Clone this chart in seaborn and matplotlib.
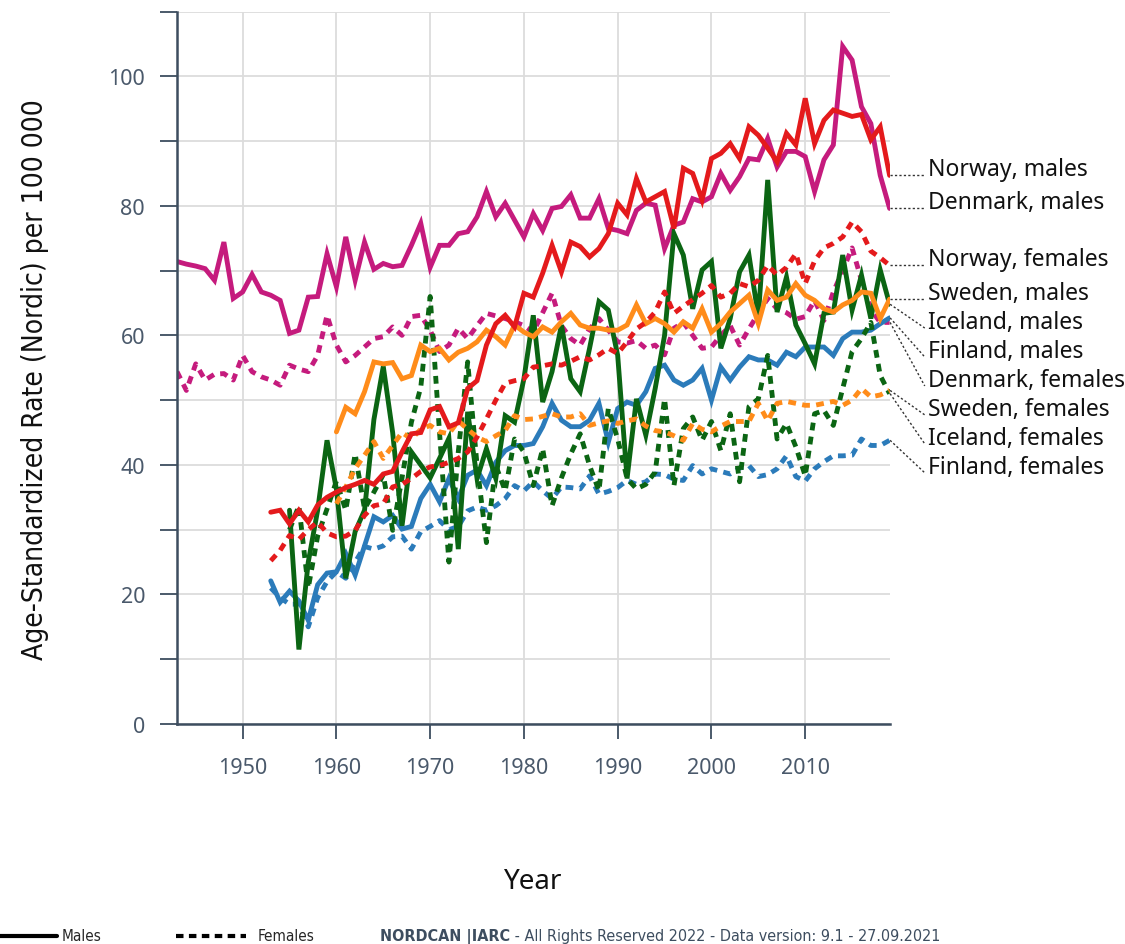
import numpy as np
import pandas as pd
import matplotlib
matplotlib.use("Agg")
import matplotlib.pyplot as plt
from matplotlib.lines import Line2D
from matplotlib import font_manager
import seaborn as sns

# ---------------------------------------------------------------- data
start_year = {"Denmark": 1943, "Finland": 1953, "Iceland": 1955,
              "Norway": 1953, "Sweden": 1960}

denmark_males = [
    71.4, 71.0, 70.7, 70.3, 68.5, 74.4, 65.7, 66.7, 69.4, 66.7,
    66.2, 65.4, 60.3, 60.8, 65.9, 66.0, 72.6, 67.5, 75.2, 68.5,
    74.4, 70.2, 71.1, 70.6, 70.8, 73.9, 77.3, 70.5, 73.9, 73.9,
    75.7, 76.0, 78.3, 82.2, 78.3, 80.4, 77.8, 75.2, 78.8, 76.2,
    79.6, 79.9, 81.7, 78.1, 78.1, 81.1, 76.5, 76.2, 75.7, 79.3,
    80.4, 80.1, 73.4, 77.0, 77.5, 81.1, 80.6, 81.4, 85.0, 82.4,
    84.5, 87.3, 87.1, 90.4, 86.0, 88.4, 88.4, 87.6, 82.2, 87.1,
    89.4, 104.6, 102.5, 95.3, 92.7, 84.7, 79.6]
denmark_females = [
    54.4, 51.5, 55.6, 53.1, 54.0, 54.1, 53.1, 56.9, 54.4, 53.6,
    53.1, 52.3, 55.4, 54.8, 54.4, 56.9, 63.1, 58.5, 55.9, 56.9,
    58.2, 59.5, 59.8, 61.3, 60.0, 62.9, 63.1, 60.8, 57.5, 58.5,
    61.1, 59.5, 61.5, 63.4, 63.0, 62.6, 62.1, 61.5, 60.5, 63.5,
    66.5, 61.5, 59.5, 58.5, 61.0, 62.6, 60.8, 59.0, 58.8, 59.2,
    58.0, 58.5, 57.0, 61.1, 62.0, 60.0, 58.0, 58.2, 60.0, 61.5,
    58.5, 61.0, 63.4, 65.7, 64.1, 63.5, 62.5, 62.9, 65.4, 62.3,
    66.7, 70.0, 73.5, 68.5, 64.0, 62.0, 62.0]

finland_males = [
    22.1, 18.8, 20.5, 19.0, 16.0, 21.5, 23.3, 23.5, 26.3, 23.0,
    27.5, 32.0, 31.2, 32.2, 30.1, 30.5, 34.8, 37.0, 34.3, 37.9,
    34.8, 38.4, 39.2, 36.8, 40.4, 42.2, 43.0, 43.0, 43.3, 45.9,
    49.5, 46.9, 45.9, 45.9, 46.9, 49.5, 43.5, 48.7, 49.7, 49.2,
    51.3, 54.9, 55.4, 53.1, 52.3, 53.1, 54.9, 50.0, 55.1, 53.1,
    55.1, 56.7, 56.2, 56.2, 55.4, 57.4, 56.7, 58.2, 58.2, 58.2,
    56.9, 59.5, 60.5, 60.5, 60.8, 61.8, 62.7]
finland_females = [
    21.0, 19.5, 18.5, 18.5, 15.0, 19.5, 22.0, 23.5, 22.5, 25.0,
    27.4, 27.0, 27.5, 28.9, 29.0, 27.0, 29.7, 30.5, 31.4, 30.0,
    30.5, 32.9, 33.5, 33.0, 33.7, 34.8, 36.8, 36.0, 37.4, 36.0,
    34.8, 36.6, 36.5, 36.3, 38.3, 35.5, 35.9, 36.5, 37.6, 37.0,
    37.4, 38.6, 38.5, 37.8, 37.6, 39.9, 38.6, 39.4, 39.0, 38.6,
    39.5, 39.9, 38.2, 38.5, 39.4, 41.4, 38.2, 37.5, 39.4, 40.5,
    41.4, 41.4, 41.5, 44.0, 43.0, 43.0, 43.8]

iceland_males = [
    33.0, 11.5, 25.0, 33.0, 43.8, 36.3, 22.5, 29.7, 33.0, 47.0,
    55.2, 45.0, 30.6, 42.0, 40.0, 38.0, 41.0, 44.1, 27.0, 48.2,
    37.9, 42.5, 37.9, 47.6, 46.6, 53.3, 63.1, 49.7, 54.4, 61.6,
    53.3, 51.3, 58.0, 65.2, 63.9, 56.9, 37.9, 50.2, 44.6, 51.8,
    60.0, 75.7, 72.4, 64.1, 70.1, 71.4, 58.0, 62.6, 69.8, 72.4,
    62.9, 84.0, 63.6, 69.0, 61.6, 58.7, 55.6, 63.4, 63.6, 72.4,
    63.9, 69.3, 62.6, 70.1, 64.8]
iceland_females = [
    30.0, 33.7, 21.0, 29.0, 33.2, 37.5, 33.0, 41.7, 33.2, 35.8,
    38.5, 29.9, 38.0, 46.6, 52.0, 66.0, 45.0, 25.0, 42.0, 55.9,
    40.0, 28.0, 39.9, 36.0, 44.0, 42.0, 36.8, 42.5, 33.7, 38.0,
    41.7, 44.8, 39.9, 36.0, 48.7, 44.0, 37.9, 36.3, 37.0, 38.9,
    50.2, 36.8, 45.6, 47.4, 43.8, 46.7, 42.2, 47.9, 37.4, 49.0,
    50.2, 56.9, 44.0, 46.4, 42.8, 38.3, 47.9, 48.4, 46.1, 51.8,
    57.5, 59.5, 62.0, 53.8, 51.0]

norway_males = [
    32.7, 33.0, 30.9, 33.0, 31.2, 33.8, 35.0, 35.8, 36.5, 37.0,
    37.6, 37.0, 38.6, 39.0, 42.0, 44.8, 45.0, 48.5, 49.0, 45.9,
    46.5, 51.8, 53.0, 58.5, 61.8, 63.1, 61.3, 66.5, 65.9, 69.6,
    73.9, 69.8, 74.4, 73.7, 72.1, 73.4, 75.7, 80.4, 78.6, 84.2,
    80.6, 81.4, 82.2, 76.5, 85.8, 85.0, 80.9, 87.3, 88.1, 89.6,
    87.3, 92.2, 90.9, 88.9, 86.8, 91.2, 89.4, 96.6, 89.6, 93.2,
    94.8, 94.3, 93.8, 94.1, 90.2, 92.2, 84.7]
norway_females = [
    25.2, 26.8, 29.1, 28.5, 30.0, 31.2, 29.5, 28.9, 29.0, 29.9,
    32.2, 33.7, 34.0, 36.6, 37.0, 37.9, 39.0, 39.7, 39.9, 40.4,
    41.0, 42.0, 44.3, 47.1, 50.0, 52.6, 53.0, 53.3, 55.1, 55.3,
    55.6, 55.4, 56.0, 56.7, 56.2, 57.0, 58.0, 57.2, 59.0, 61.0,
    62.0, 63.6, 66.7, 63.4, 64.5, 65.5, 66.5, 67.7, 65.9, 66.5,
    68.0, 67.5, 68.5, 70.8, 69.3, 70.5, 72.6, 68.0, 71.5, 73.5,
    74.2, 75.2, 77.5, 76.0, 73.0, 72.0, 70.8]

sweden_males = [
    45.1, 48.9, 47.9, 51.3, 55.9, 55.6, 55.8, 53.3, 53.8, 58.5,
    57.5, 58.0, 56.2, 57.4, 58.0, 59.0, 60.8, 59.8, 58.5, 61.6,
    60.5, 59.8, 61.3, 60.5, 62.1, 63.4, 61.6, 61.1, 61.1, 60.8,
    60.8, 61.6, 64.7, 61.8, 62.6, 61.8, 60.5, 62.1, 61.1, 64.1,
    60.5, 61.8, 63.6, 64.9, 66.2, 61.8, 67.0, 65.4, 65.9, 68.0,
    66.2, 65.4, 64.1, 63.6, 64.7, 65.4, 66.7, 66.5, 62.6, 65.6]
sweden_females = [
    34.0, 36.6, 39.4, 41.5, 43.6, 41.0, 43.0, 45.0, 44.0, 45.5,
    46.1, 45.1, 44.8, 46.8, 45.5, 44.3, 43.6, 44.5, 45.3, 47.6,
    47.0, 47.1, 47.5, 47.9, 47.4, 47.4, 47.9, 46.1, 46.5, 46.8,
    46.4, 46.8, 47.1, 46.0, 45.3, 45.1, 44.5, 43.8, 46.4, 45.5,
    45.1, 46.0, 46.7, 46.7, 46.7, 49.5, 46.8, 49.5, 49.8, 49.5,
    49.2, 49.2, 49.5, 49.8, 49.2, 50.0, 51.8, 50.5, 50.8, 51.5]

series = {
    ("Denmark", "males"): denmark_males,
    ("Denmark", "females"): denmark_females,
    ("Finland", "males"): finland_males,
    ("Finland", "females"): finland_females,
    ("Iceland", "males"): iceland_males,
    ("Iceland", "females"): iceland_females,
    ("Norway", "males"): norway_males,
    ("Norway", "females"): norway_females,
    ("Sweden", "males"): sweden_males,
    ("Sweden", "females"): sweden_females,
}

palette = {"Denmark": "#c51b7d", "Finland": "#2b7bba", "Iceland": "#0b6513",
           "Norway": "#e41a1c", "Sweden": "#ff8c1a"}

rows = []
for (country, sex), vals in series.items():
    years = np.arange(start_year[country], start_year[country] + len(vals))
    for y, v in zip(years, vals):
        rows.append({"year": int(y), "rate": v, "country": country, "sex": sex})
df = pd.DataFrame(rows)

# ---------------------------------------------------------------- fonts
sns.set_theme(style="white")
names = {f.name for f in font_manager.fontManager.ttflist}
narrow = "Liberation Sans Narrow" if "Liberation Sans Narrow" in names else "DejaVu Sans"
body = "Noto Sans" if "Noto Sans" in names else "DejaVu Sans"
plt.rcParams["font.family"] = [body, "DejaVu Sans"]

spine_c = "#3d4d5f"
tick_c = "#4a596b"

# ---------------------------------------------------------------- figure
W, H = 1125, 945
fig = plt.figure(figsize=(W / 100, H / 100), dpi=100)
ax = fig.add_axes([177 / W, 1 - 725 / H, (889.6 - 177) / W, (725 - 12.5) / H])

sns.lineplot(data=df, x="year", y="rate", hue="country", style="sex",
             palette=palette, hue_order=["Denmark", "Finland", "Iceland", "Sweden", "Norway"],
             style_order=["males", "females"],
             dashes={"males": "", "females": (1.6, 1.3)},
             lw=3.5, errorbar=None, legend=False, ax=ax)
for ln in ax.lines:
    ln.set_dash_capstyle("butt")
    ln.set_solid_joinstyle("miter")

ax.set_xlim(1943, 2019)
ax.set_ylim(0, 110)
ax.set_xticks(range(1950, 2011, 10))
ax.set_yticks(range(0, 101, 20))
ax.set_yticks(range(10, 111, 20), minor=True)
ax.grid(True, axis="y", which="both", color="#dcdcdc", lw=1.3)
ax.grid(True, axis="x", which="major", color="#dcdcdc", lw=1.3)
ax.set_axisbelow(True)

for s in ["top", "right"]:
    ax.spines[s].set_visible(False)
for s in ["left", "bottom"]:
    ax.spines[s].set_color(spine_c)
    ax.spines[s].set_linewidth(1.8)

ax.tick_params(axis="y", which="both", length=12, width=1.3, color=spine_c,
               labelcolor=tick_c, labelsize=15.5, pad=11, left=True)
ax.tick_params(axis="x", which="major", length=11, width=1.3, color=spine_c,
               labelcolor=tick_c, labelsize=15.5, pad=13, bottom=True)

ax.set_xlabel("Year", fontsize=20, color="#111111", labelpad=0)
ax.xaxis.set_label_coords(0.5, (725 - 882) / 712.5)
ax.xaxis.label.set_va("center")
ax.set_ylabel("Age-Standardized Rate (Nordic) per 100 000", fontsize=20,
              family=narrow, fontstretch="condensed", color="#111111")
ax.yaxis.set_label_coords((35 - 177) / 712.6, 1 - (380 - 12.5) / 712.5)
ax.yaxis.label.set_va("center")

# ---------------------------------------------------------------- end labels
ends = []
for (country, sex), vals in series.items():
    ends.append((vals[-1], f"{country}, {sex}"))
ends.sort(key=lambda t: -t[0])
gap = 4.47
prev = None
for end_val, label in ends:
    ly = end_val if prev is None else min(end_val, prev - gap)
    prev = ly
    ax.plot([2019.05, 2022.75], [end_val, ly], color="#333333", lw=1.0,
            ls=(0, (1.6, 1.6)), clip_on=False)
    ax.text(2023.1, ly, label, fontsize=16.5, color="#111111",
            va="baseline", ha="left", clip_on=False)

# ---------------------------------------------------------------- footer
yf = 1 - 937 / H
fig.add_artist(Line2D([0, 57 / W], [yf, yf], transform=fig.transFigure,
                      color="black", lw=3))
fig.text(62 / W, yf, "Males", fontsize=11, family=narrow,
         fontstretch="condensed", va="center", ha="left")
fig.add_artist(Line2D([176 / W, 246 / W], [yf, yf], transform=fig.transFigure,
                      color="black", lw=3, ls=(0, (1.8, 1.3))))
fig.text(258 / W, yf, "Females", fontsize=11, family=narrow,
         fontstretch="condensed", va="center", ha="left")

t1 = fig.text(380 / W, yf, "NORDCAN |IARC", fontsize=12, family=narrow,
              fontstretch="condensed", weight="bold", color=spine_c,
              va="center", ha="left")
t2 = fig.text(0, yf, " - All Rights Reserved 2022 - Data version: 9.1 - 27.09.2021",
              fontsize=12, family=narrow, fontstretch="condensed",
              color=spine_c, va="center", ha="left")

# fit the footer line and the y label to their intended lengths
renderer = fig.canvas.get_renderer()
w1 = t1.get_window_extent(renderer).width
w2 = t2.get_window_extent(renderer).width
scale = 560.0 / (w1 + w2)
t1.set_fontsize(12 * scale)
t2.set_fontsize(12 * scale)
w1 = t1.get_window_extent(renderer).width
t2.set_x((380 + w1) / W)

ylab = ax.yaxis.label
hl = ylab.get_window_extent(renderer).height
ylab.set_fontsize(20 * 562.0 / hl)

fig.savefig("out.png", dpi=100)
